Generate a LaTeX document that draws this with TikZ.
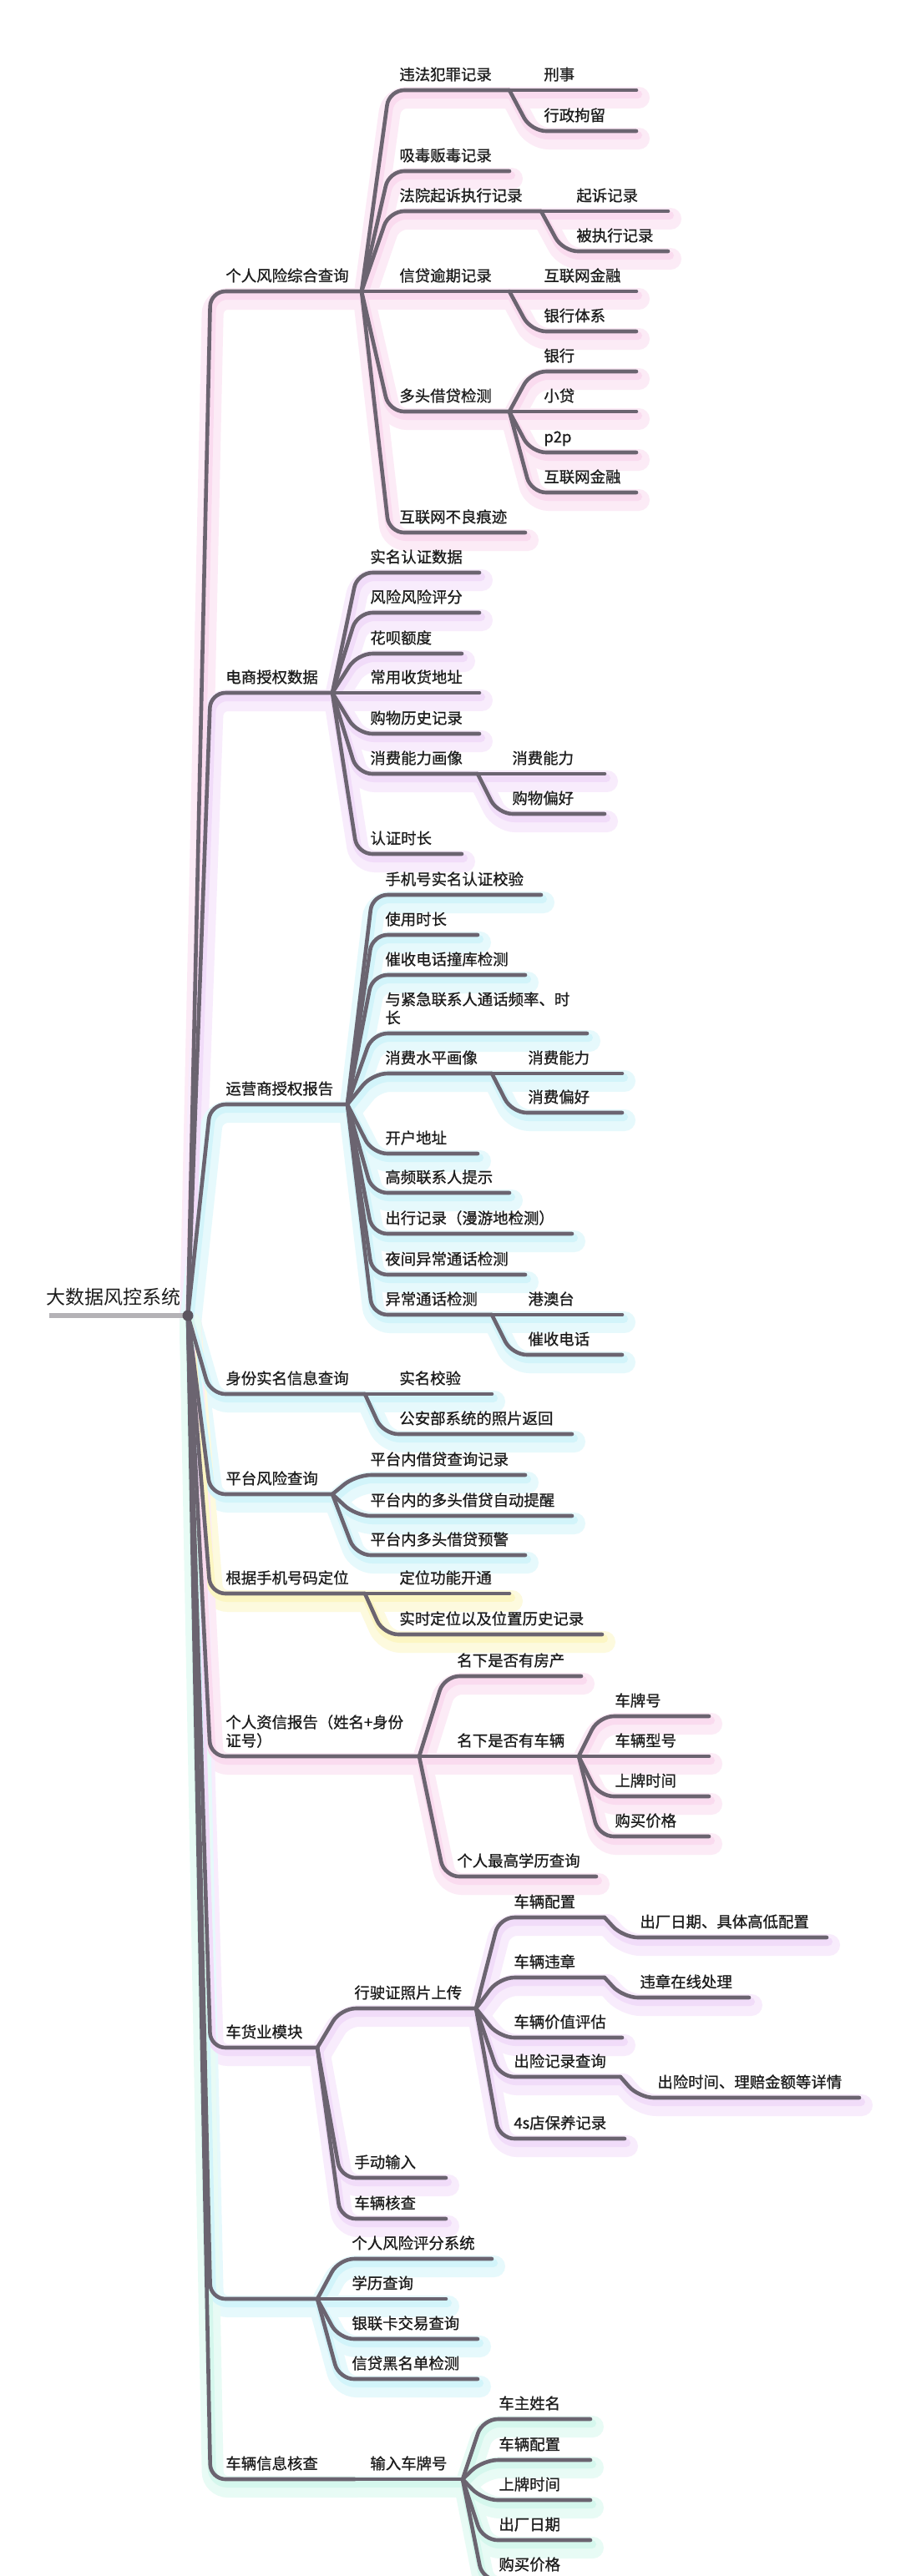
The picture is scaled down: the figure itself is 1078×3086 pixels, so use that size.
\documentclass[tikz,border=0pt]{standalone}
\usepackage{fontspec}
\newfontfamily\cjk{Noto Sans CJK SC}[FakeBold=0.9]
\newfontfamily\cjkroot{Noto Sans CJK SC}
\usetikzlibrary{calc}
\pgfdeclarelayer{bg}\pgfdeclarelayer{glowA}\pgfdeclarelayer{glowB}
\pgfsetlayers{bg,glowA,glowB,main}
\definecolor{ln}{HTML}{6B6470}
\definecolor{rootln}{HTML}{B4B2B6}
\definecolor{txt}{HTML}{1C1C1C}
\definecolor{gpink}{HTML}{F2A6D8}
\definecolor{gviolet}{HTML}{DDA8F0}
\definecolor{gcyan}{HTML}{8FE4F2}
\definecolor{gyellow}{HTML}{F8E86A}
\definecolor{gmint}{HTML}{96EBD2}
\tikzset{
  lbl/.style={inner sep=0pt, anchor=base west, text=txt, font=\cjk\fontsize{9.2}{11}\selectfont},
  lbltwo/.style={lbl, align=left},
  rootlbl/.style={inner sep=0pt, anchor=base west, text=txt, font=\cjkroot\fontsize{11.5}{13}\selectfont},
  branch/.style={draw=ln, line width=2.3pt, line cap=round, rounded corners=9pt},
  glowwide/.style={draw=#1!22, line width=13pt, line cap=round, rounded corners=9pt, transform canvas={xshift=1.5pt,yshift=-4.5pt}},
  glownarrow/.style={draw=#1!40, line width=5pt, line cap=round, rounded corners=9pt, transform canvas={xshift=1pt,yshift=-2.5pt}},
  rootline/.style={draw=rootln, line width=2.6pt},
  rootdot/.style={circle, fill=ln!85!black, inner sep=0pt, minimum size=6.5pt}
}
\newcommand\mnode[5]{\coordinate (#1) at (#4,#3);\node[lbl] (#1t) at (#2,#3-12) {#5};}
\newcommand\mnodeii[5]{\coordinate (#1) at (#4,#3);\node[lbltwo] (#1t) at (#2,#3-12) {#5};}
\newcommand\brl[4]{%
  \begin{pgfonlayer}{glowA}\path[glowwide=#3] (#1) -- ($(#1|-#2)+(#4,0)$) -- (#2);\end{pgfonlayer}%
  \begin{pgfonlayer}{glowB}\path[glownarrow=#3] (#1) -- ($(#1|-#2)+(#4,0)$) -- (#2);\end{pgfonlayer}%
  \path[branch] (#1) -- ($(#1|-#2)+(#4,0)$) -- (#2);}
\begin{document}
\begin{tikzpicture}[x=0.5pt,y=-0.5pt]
\begin{pgfonlayer}{bg}
\fill[white] (0,0) rectangle (1078,3086);
\end{pgfonlayer}
\useasboundingbox (0,0) rectangle (1078,3086);
% root
\coordinate (R0) at (59,1576);
\coordinate (R) at (225,1576);
\node[rootlbl] (Rt) at (55,1562) {大数据风控系统};
% level 1
\mnode{A}{270}{349}{433}{个人风险综合查询}
\mnode{B}{270}{830}{398}{电商授权数据}
\mnode{C}{270}{1323}{416}{运营商授权报告}
\mnode{D}{270}{1670}{437}{身份实名信息查询}
\mnode{E}{270}{1790}{398}{平台风险查询}
\mnode{F}{270}{1909}{437}{根据手机号码定位}
\mnodeii{G}{270}{2104}{502}{个人资信报告（姓名+身份\\证号）}
\mnode{H}{270}{2453}{380}{车货业模块}
\coordinate (I) at (380,2754);
\mnode{J}{270}{2970}{425}{车辆信息核查}
% A
\mnode{A1}{478}{108}{610}{违法犯罪记录}
\mnode{A2}{478}{205}{610}{吸毒贩毒记录}
\mnode{A3}{478}{253}{648}{法院起诉执行记录}
\mnode{A4}{478}{349}{610}{信贷逾期记录}
\mnode{A5}{478}{493}{610}{多头借贷检测}
\mnode{A6}{478}{638}{629}{互联网不良痕迹}
\mnode{A11}{651}{108}{762}{刑事}
\mnode{A12}{651}{157}{762}{行政拘留}
\mnode{A31}{690}{253}{800}{起诉记录}
\mnode{A32}{690}{301}{800}{被执行记录}
\mnode{A41}{651}{349}{762}{互联网金融}
\mnode{A42}{651}{397}{762}{银行体系}
\mnode{A51}{651}{445}{762}{银行}
\mnode{A52}{651}{493}{762}{小贷}
\mnode{A53}{651}{542}{762}{p2p}
\mnode{A54}{651}{590}{762}{互联网金融}
% B
\mnode{B1}{443}{686}{574}{实名认证数据}
\mnode{B2}{443}{734}{574}{风险风险评分}
\mnode{B3}{443}{783}{553}{花呗额度}
\mnode{B4}{443}{830}{574}{常用收货地址}
\mnode{B5}{443}{879}{574}{购物历史记录}
\mnode{B6}{443}{927}{572}{消费能力画像}
\mnode{B7}{443}{1023}{553}{认证时长}
\mnode{B61}{613}{927}{724}{消费能力}
\mnode{B62}{613}{975}{724}{购物偏好}
% C
\mnode{C1}{461}{1072}{648}{手机号实名认证校验}
\mnode{C2}{461}{1120}{572}{使用时长}
\mnode{C3}{461}{1168}{629}{催收电话撞库检测}
\mnodeii{C4}{461}{1238}{703}{与紧急联系人通话频率、时\\长}
\mnode{C5}{461}{1286}{589}{消费水平画像}
\mnode{C6}{461}{1382}{572}{开户地址}
\mnode{C7}{461}{1429}{610}{高频联系人提示}
\mnode{C8}{461}{1478}{685}{出行记录（漫游地检测）}
\mnode{C9}{461}{1527}{629}{夜间异常通话检测}
\mnode{C10}{461}{1575}{589}{异常通话检测}
\mnode{C51}{632}{1286}{745}{消费能力}
\mnode{C52}{632}{1333}{745}{消费偏好}
\mnode{C101}{632}{1575}{745}{港澳台}
\mnode{C102}{632}{1623}{745}{催收电话}
% D
\mnode{D1}{478}{1670}{589}{实名校验}
\mnode{D2}{478}{1718}{685}{公安部系统的照片返回}
% E
\mnode{E1}{443}{1767}{629}{平台内借贷查询记录}
\mnode{E2}{443}{1816}{685}{平台内的多头借贷自动提醒}
\mnode{E3}{443}{1863}{629}{平台内多头借贷预警}
% F
\mnode{F1}{478}{1909}{610}{定位功能开通}
\mnode{F2}{478}{1958}{721}{实时定位以及位置历史记录}
% G
\mnode{G1}{547}{2008}{696}{名下是否有房产}
\mnode{G2}{547}{2104}{693}{名下是否有车辆}
\mnode{G3}{547}{2248}{714}{个人最高学历查询}
\mnode{G21}{736}{2056}{849}{车牌号}
\mnode{G22}{736}{2104}{849}{车辆型号}
\mnode{G23}{736}{2152}{849}{上牌时间}
\mnode{G24}{736}{2200}{849}{购买价格}
% H
\mnode{H1}{424}{2406}{570}{行驶证照片上传}
\mnode{H2}{424}{2609}{534}{手动输入}
\mnode{H3}{424}{2658}{534}{车辆核查}
\mnode{H11}{615}{2297}{724}{车辆配置}
\mnode{H12}{615}{2369}{724}{车辆违章}
\mnode{H13}{615}{2441}{745}{车辆价值评估}
\mnode{H14}{615}{2488}{743}{出险记录查询}
\mnode{H15}{615}{2562}{748}{4s店保养记录}
\mnode{H111}{766}{2321}{990}{出厂日期、具体高低配置}
\mnode{H121}{766}{2393}{897}{违章在线处理}
\mnode{H141}{787}{2513}{1029}{出险时间、理赔金额等详情}
% I
\mnode{I1}{421}{2706}{589}{个人风险评分系统}
\mnode{I2}{421}{2754}{534}{学历查询}
\mnode{I3}{421}{2802}{572}{银联卡交易查询}
\mnode{I4}{421}{2850}{572}{信贷黑名单检测}
% J
\mnode{J1}{443}{2970}{554}{输入车牌号}
\mnode{J11}{597}{2898}{707}{车主姓名}
\mnode{J12}{597}{2947}{707}{车辆配置}
\mnode{J13}{597}{2995}{707}{上牌时间}
\mnode{J14}{597}{3043}{707}{出厂日期}
\mnode{J15}{597}{3091}{707}{购买价格}
% ---------- connectors
\brl{R}{A}{gpink}{27}
\brl{R}{B}{gviolet}{27}
\brl{R}{C}{gcyan}{27}
\brl{R}{E}{gcyan}{27}
\brl{R}{D}{gcyan}{27}
\brl{R}{F}{gyellow}{27}
\brl{R}{G}{gpink}{27}
\brl{R}{H}{gviolet}{27}
\brl{R}{I}{gcyan}{27}
\brl{R}{J}{gmint}{27}
\foreach \c in {A1,A2,A3,A4,A5,A6}{\brl{A}{\c}{gpink}{33}}
\foreach \c in {A11,A12}{\brl{A1}{\c}{gpink}{26}}
\foreach \c in {A31,A32}{\brl{A3}{\c}{gpink}{26}}
\foreach \c in {A41,A42}{\brl{A4}{\c}{gpink}{26}}
\foreach \c in {A51,A52,A53,A54}{\brl{A5}{\c}{gpink}{26}}
\foreach \c in {B1,B2,B3,B4,B5,B6,B7}{\brl{B}{\c}{gviolet}{30}}
\foreach \c in {B61,B62}{\brl{B6}{\c}{gviolet}{24}}
\foreach \c in {C1,C2,C3,C4,C5,C6,C7,C8,C9,C10}{\brl{C}{\c}{gcyan}{30}}
\foreach \c in {C51,C52}{\brl{C5}{\c}{gcyan}{24}}
\foreach \c in {C101,C102}{\brl{C10}{\c}{gcyan}{24}}
\foreach \c in {D1,D2}{\brl{D}{\c}{gcyan}{22}}
\foreach \c in {E1,E2,E3}{\brl{E}{\c}{gcyan}{28}}
\foreach \c in {F1,F2}{\brl{F}{\c}{gyellow}{22}}
\foreach \c in {G1,G2,G3}{\brl{G}{\c}{gpink}{30}}
\foreach \c in {G21,G22,G23,G24}{\brl{G2}{\c}{gpink}{24}}
\foreach \c in {H1,H2,H3}{\brl{H}{\c}{gviolet}{28}}
\foreach \c in {H11,H12,H13,H14,H15}{\brl{H1}{\c}{gviolet}{28}}
\brl{H11}{H111}{gviolet}{22}
\brl{H12}{H121}{gviolet}{22}
\brl{H14}{H141}{gviolet}{22}
\foreach \c in {I1,I2,I3,I4}{\brl{I}{\c}{gcyan}{26}}
\brl{J}{J1}{gmint}{24}
\foreach \c in {J11,J12,J13,J14,J15}{\brl{J1}{\c}{gmint}{24}}
% root
\draw[rootline] (R0) -- (R);
\node[rootdot] (Rd) at (R) {};
\end{tikzpicture}
\end{document}
